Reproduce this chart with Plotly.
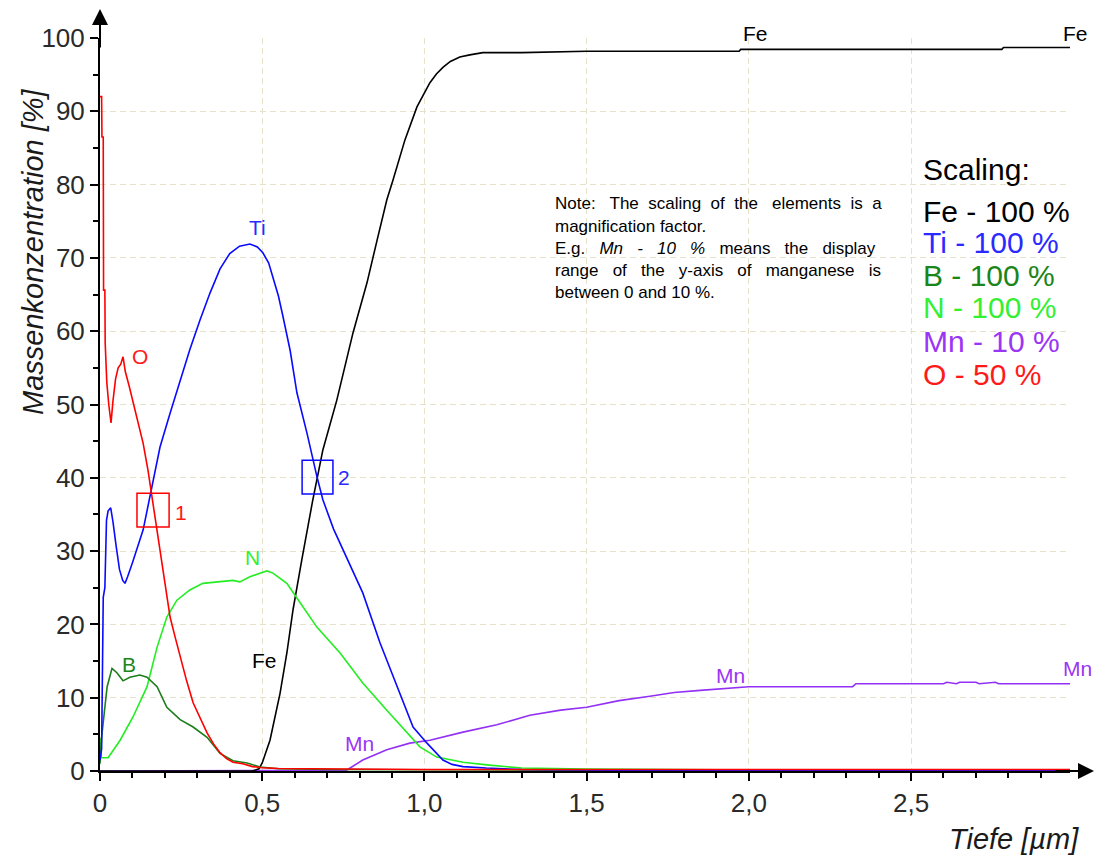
import plotly.graph_objects as go

# ---- depth profile data (depth in µm, concentration in % of the scaled range) ----
x_Fe = [0.0, 0.47, 0.49, 0.5, 0.524, 0.555, 0.576, 0.595, 0.622, 0.656, 0.687, 0.73, 0.78, 0.823,
        0.854, 0.884, 0.903, 0.94, 0.977, 1.0, 1.017, 1.037, 1.057, 1.08, 1.109, 1.14, 1.18, 1.3,
        1.5, 1.8, 1.97, 1.975, 2.78, 2.785, 2.99]
y_Fe = [0.0, 0.0, 0.3, 1.1, 4.2, 10.6, 16.1, 22, 28.8, 37, 43.8, 50.6, 59.8, 66.6,
        72.4, 77.9, 80.6, 86.1, 90.6, 92.5, 93.9, 95.1, 96, 96.8, 97.4, 97.7, 98, 98,
        98.2, 98.2, 98.2, 98.45, 98.45, 98.7, 98.7]

x_Ti = [0.0, 0.005, 0.01, 0.015, 0.02, 0.025, 0.033, 0.040, 0.050, 0.060, 0.070, 0.077, 0.085,
        0.10, 0.133, 0.154, 0.185, 0.216, 0.247, 0.277, 0.308, 0.339, 0.37, 0.40, 0.43, 0.462,
        0.485, 0.502, 0.52, 0.533, 0.55, 0.564, 0.586, 0.607, 0.638, 0.669, 0.687, 0.72, 0.764,
        0.81, 0.863, 0.915, 0.965, 1.008, 1.035, 1.057, 1.085, 1.119, 1.19, 1.3, 1.6, 2.0, 2.5, 2.99]
y_Ti = [1.5, 3.0, 23.7, 25.0, 34.2, 35.5, 35.9, 34.0, 30.6, 27.5, 26.0, 25.6, 26.5,
        28.4, 32.9, 37.4, 44.2, 48.8, 53.3, 57.5, 61.5, 65.2, 68.5, 70.6, 71.6, 71.9,
        71.5, 70.7, 69.3, 67.4, 64.8, 62.0, 57.4, 51.6, 46.1, 40.1, 37.0, 33.0, 28.8,
        24.3, 17.5, 11.5, 6.0, 3.8, 2.5, 1.5, 0.9, 0.6, 0.4, 0.2, 0.1, 0.05, 0.05, 0.05]

x_B = [0.0, 0.005, 0.015, 0.022, 0.037, 0.052, 0.071, 0.092, 0.123, 0.145, 0.176, 0.206, 0.247,
       0.287, 0.33, 0.37, 0.41, 0.453, 0.493, 0.55, 0.7, 1.0, 1.5, 2.0, 2.4, 2.99]
y_B = [1.0, 4.6, 8.7, 11.5, 14.0, 13.4, 12.3, 12.8, 13.1, 12.8, 11.5, 8.7, 7.0,
       6.0, 4.6, 2.4, 1.4, 1.1, 0.55, 0.3, 0.2, 0.15, 0.1, 0.1, 0.1, 0.1]

x_N = [0.0, 0.004, 0.025, 0.062, 0.102, 0.145, 0.176, 0.206, 0.237, 0.277, 0.317, 0.36, 0.41,
       0.431, 0.462, 0.502, 0.515, 0.533, 0.576, 0.607, 0.669, 0.74, 0.81, 0.884, 0.946, 0.986,
       1.038, 1.119, 1.2, 1.3, 1.5, 1.8, 2.2, 2.99]
y_N = [4.5, 1.8, 1.8, 4.2, 7.4, 11.5, 16.9, 21.0, 23.3, 24.7, 25.6, 25.8, 26.0,
       25.8, 26.5, 27.1, 27.3, 27.0, 25.6, 23.6, 19.6, 16.1, 12.0, 8.3, 5.2, 3.3,
       1.9, 1.2, 0.8, 0.4, 0.25, 0.15, 0.1, 0.1]

x_Mn = [0.0, 0.76, 0.81, 0.884, 0.955, 1.017, 1.119, 1.223, 1.325, 1.42, 1.5, 1.6, 1.695, 1.77,
        1.85, 1.93, 2.0, 2.1, 2.2, 2.32, 2.33, 2.6, 2.61, 2.64, 2.65, 2.7, 2.71, 2.76, 2.77, 2.99]
y_Mn = [0.0, 0.1, 1.5, 2.9, 3.8, 4.2, 5.3, 6.3, 7.6, 8.3, 8.7, 9.6, 10.2, 10.7,
        11.0, 11.3, 11.5, 11.5, 11.5, 11.5, 11.9, 11.9, 12.1, 11.9, 12.1, 12.1, 11.9, 12.1, 11.9, 11.9]

x_O = [0.0, 0.005, 0.006, 0.010, 0.011, 0.015, 0.016, 0.021, 0.027, 0.034, 0.040, 0.048, 0.056,
       0.064, 0.071, 0.078, 0.090, 0.103, 0.118, 0.133, 0.148, 0.160, 0.172, 0.185, 0.200, 0.216,
       0.232, 0.247, 0.267, 0.287, 0.31, 0.33, 0.35, 0.37, 0.39, 0.41, 0.44, 0.47, 0.50, 0.55,
       0.65, 0.8, 1.0, 1.3, 1.6, 2.0, 2.4, 2.99]
y_O = [92.0, 92.0, 86.5, 86.5, 65.6, 65.6, 58.4, 53.0, 50.0, 47.5, 50.5, 53.5, 55.0,
       55.5, 56.5, 54.5, 52.5, 50.2, 47.5, 44.7, 41.0, 37.4, 34.0, 30.6, 26.0, 21.0,
       18.2, 15.6, 12.3, 9.3, 7.0, 5.2, 3.7, 2.5, 1.7, 1.2, 1.0, 0.6, 0.45, 0.35,
       0.3, 0.25, 0.2, 0.2, 0.2, 0.2, 0.2, 0.2]

x_tick_vals = [0, 0.5, 1.0, 1.5, 2.0, 2.5]
x_tick_text = ["0", "0,5", "1,0", "1,5", "2,0", "2,5"]
y_tick_vals = [0, 10, 20, 30, 40, 50, 60, 70, 80, 90, 100]

scaling_items = ["Fe - 100 %", "Ti - 100 %", "B - 100 %", "N - 100 %", "Mn - 10 %", "O - 50 %"]

# ---- styling ----
FONT = "Liberation Sans, Arial, sans-serif"
C_FE, C_TI, C_B, C_N, C_MN, C_O = "#000000", "#0a0aff", "#1b7d1b", "#22ee22", "#9330f5", "#ff0000"
TXT_FE, TXT_TI, TXT_B, TXT_N, TXT_MN, TXT_O = "#000000", "#2a2aff", "#1a861a", "#33f033", "#9b35f5", "#ff1a1a"
GRID = "#e6e1c9"
LW = 1.6

X_MAX = 2.99
Y_MAX = 100

fig = go.Figure()

series = [
    (x_Mn, y_Mn, C_MN),
    (x_Fe, y_Fe, C_FE),
    (x_N, y_N, C_N),
    (x_B, y_B, C_B),
    (x_Ti, y_Ti, C_TI),
    (x_O, y_O, C_O),
]
for xs, ys, col in series:
    fig.add_trace(go.Scatter(x=xs, y=ys, mode="lines", line=dict(color=col, width=LW),
                             hoverinfo="skip", showlegend=False))

annotations = []


def label(text, x, y, xref, yref, size, color, xanchor="center", yanchor="middle", **kw):
    annotations.append(dict(x=x, y=y, xref=xref, yref=yref, text=text, showarrow=False,
                            xanchor=xanchor, yanchor=yanchor,
                            font=dict(family=FONT, size=size, color=color), **kw))


def px_to_paper_x(px):
    return (px - 100) / 970.0


def px_to_paper_y(py):
    return (771 - py) / 733.0


# curve labels inside the plot (data coordinates)
curve_labels = [
    ("Ti", 0.487, 74.1, TXT_TI),
    ("O", 0.122, 56.5, TXT_O),
    ("N", 0.471, 29.1, TXT_N),
    ("B", 0.088, 14.5, TXT_B),
    ("Fe", 0.508, 15.1, TXT_FE),
    ("Mn", 0.80, 3.8, TXT_MN),
    ("Mn", 1.945, 13.0, TXT_MN),
]
for txt, xv, yv, col in curve_labels:
    label(txt, xv, yv, "x", "y", 21, col)

# labels above / beyond the plot frame
for txt, px, py, col in [("Fe", 755, 33, TXT_FE), ("Fe", 1075, 33, TXT_FE), ("Mn", 1077, 668, TXT_MN)]:
    label(txt, px_to_paper_x(px), px_to_paper_y(py), "paper", "paper", 21, col)

# intersection markers
label("1", 0.25, 35.3, "x", "y", 21, TXT_O)
label("2", 0.752, 40.1, "x", "y", 21, TXT_TI)

# note text (justified with non-breaking spaces)
nb = "\u00a0"
note_lines = [
    "Note:" + nb * 2 + " The" + nb + " scaling" + nb + " of" + nb + " the" + nb * 2 + " elements" + nb + " is"
    + nb + " a",
    "magnification factor.",
    "E.g." + nb * 2 + " <i>Mn" + nb * 2 + " -" + nb * 2 + " 10" + nb * 2 + " %</i>" + nb * 2 + " means" + nb * 2
    + " the" + nb * 2 + " display",
    "range" + nb * 2 + " of" + nb * 2 + " the" + nb * 2 + " y-axis" + nb * 2 + " of" + nb * 2 + " manganese" + nb * 2 + " is",
    "between 0 and 10 %.",
]
for i, line in enumerate(note_lines):
    label(line, px_to_paper_x(553), px_to_paper_y(204 + 22 * i), "paper", "paper", 17, "#000000",
          xanchor="left")

# scaling list
label("Scaling:", px_to_paper_x(921), px_to_paper_y(170), "paper", "paper", 30, "#000000", xanchor="left")
scale_colors = [TXT_FE, TXT_TI, TXT_B, TXT_N, TXT_MN, TXT_O]
scale_rows = [211, 243, 275, 307, 341, 374]
for txt, col, py in zip(scaling_items, scale_colors, scale_rows):
    label(txt, px_to_paper_x(921), px_to_paper_y(py), "paper", "paper", 30, col, xanchor="left")

# axis titles
label("<i>Massenkonzentration [%]</i>", px_to_paper_x(33), px_to_paper_y(252), "paper", "paper", 29,
      "#1a1a1a", textangle=-90)
label("<i>Tiefe [µm]</i>", px_to_paper_x(1081), px_to_paper_y(839), "paper", "paper", 29, "#1a1a1a",
      xanchor="right")

# axis arrows
annotations.append(dict(x=px_to_paper_x(1094), y=0, xref="paper", yref="paper", ax=-40, ay=0,
                        text="", showarrow=True, arrowhead=2, arrowsize=1.6, arrowwidth=2,
                        arrowcolor="#000000"))
annotations.append(dict(x=0, y=px_to_paper_y(9), xref="paper", yref="paper", ax=0, ay=40,
                        text="", showarrow=True, arrowhead=2, arrowsize=1.6, arrowwidth=2,
                        arrowcolor="#000000"))

shapes = [
    dict(type="rect", xref="x", yref="y", x0=0.114, x1=0.213, y0=33.3, y1=37.9,
         line=dict(color=C_O, width=1.5), fillcolor="rgba(0,0,0,0)"),
    dict(type="rect", xref="x", yref="y", x0=0.623, x1=0.718, y0=37.8, y1=42.4,
         line=dict(color=C_TI, width=1.5), fillcolor="rgba(0,0,0,0)"),
]

axis_common = dict(
    showline=True, linecolor="#000000", linewidth=2,
    ticks="outside", ticklen=8, tickwidth=2, tickcolor="#000000",
    showgrid=True, gridcolor=GRID, gridwidth=1, griddash="6px,4px",
    zeroline=False, tickfont=dict(family=FONT, size=26, color="#2a2a2a"),
)

fig.update_layout(
    width=1095, height=857,
    margin=dict(l=100, r=25, t=38, b=86),
    paper_bgcolor="white", plot_bgcolor="white",
    separators=",.",
    showlegend=False,
    annotations=annotations,
    shapes=shapes,
    xaxis=dict(range=[0, X_MAX], tickmode="array", tickvals=x_tick_vals, ticktext=x_tick_text,
               minor=dict(tick0=0, dtick=0.1, ticks="outside", ticklen=5, tickwidth=1.5,
                          tickcolor="#000000", showgrid=False),
               **axis_common),
    yaxis=dict(range=[0, Y_MAX], tickmode="array", tickvals=y_tick_vals,
               minor=dict(tick0=0, dtick=5, ticks="outside", ticklen=5, tickwidth=1.5,
                          tickcolor="#000000", showgrid=False),
               **axis_common),
)

fig.write_html("out.html")
